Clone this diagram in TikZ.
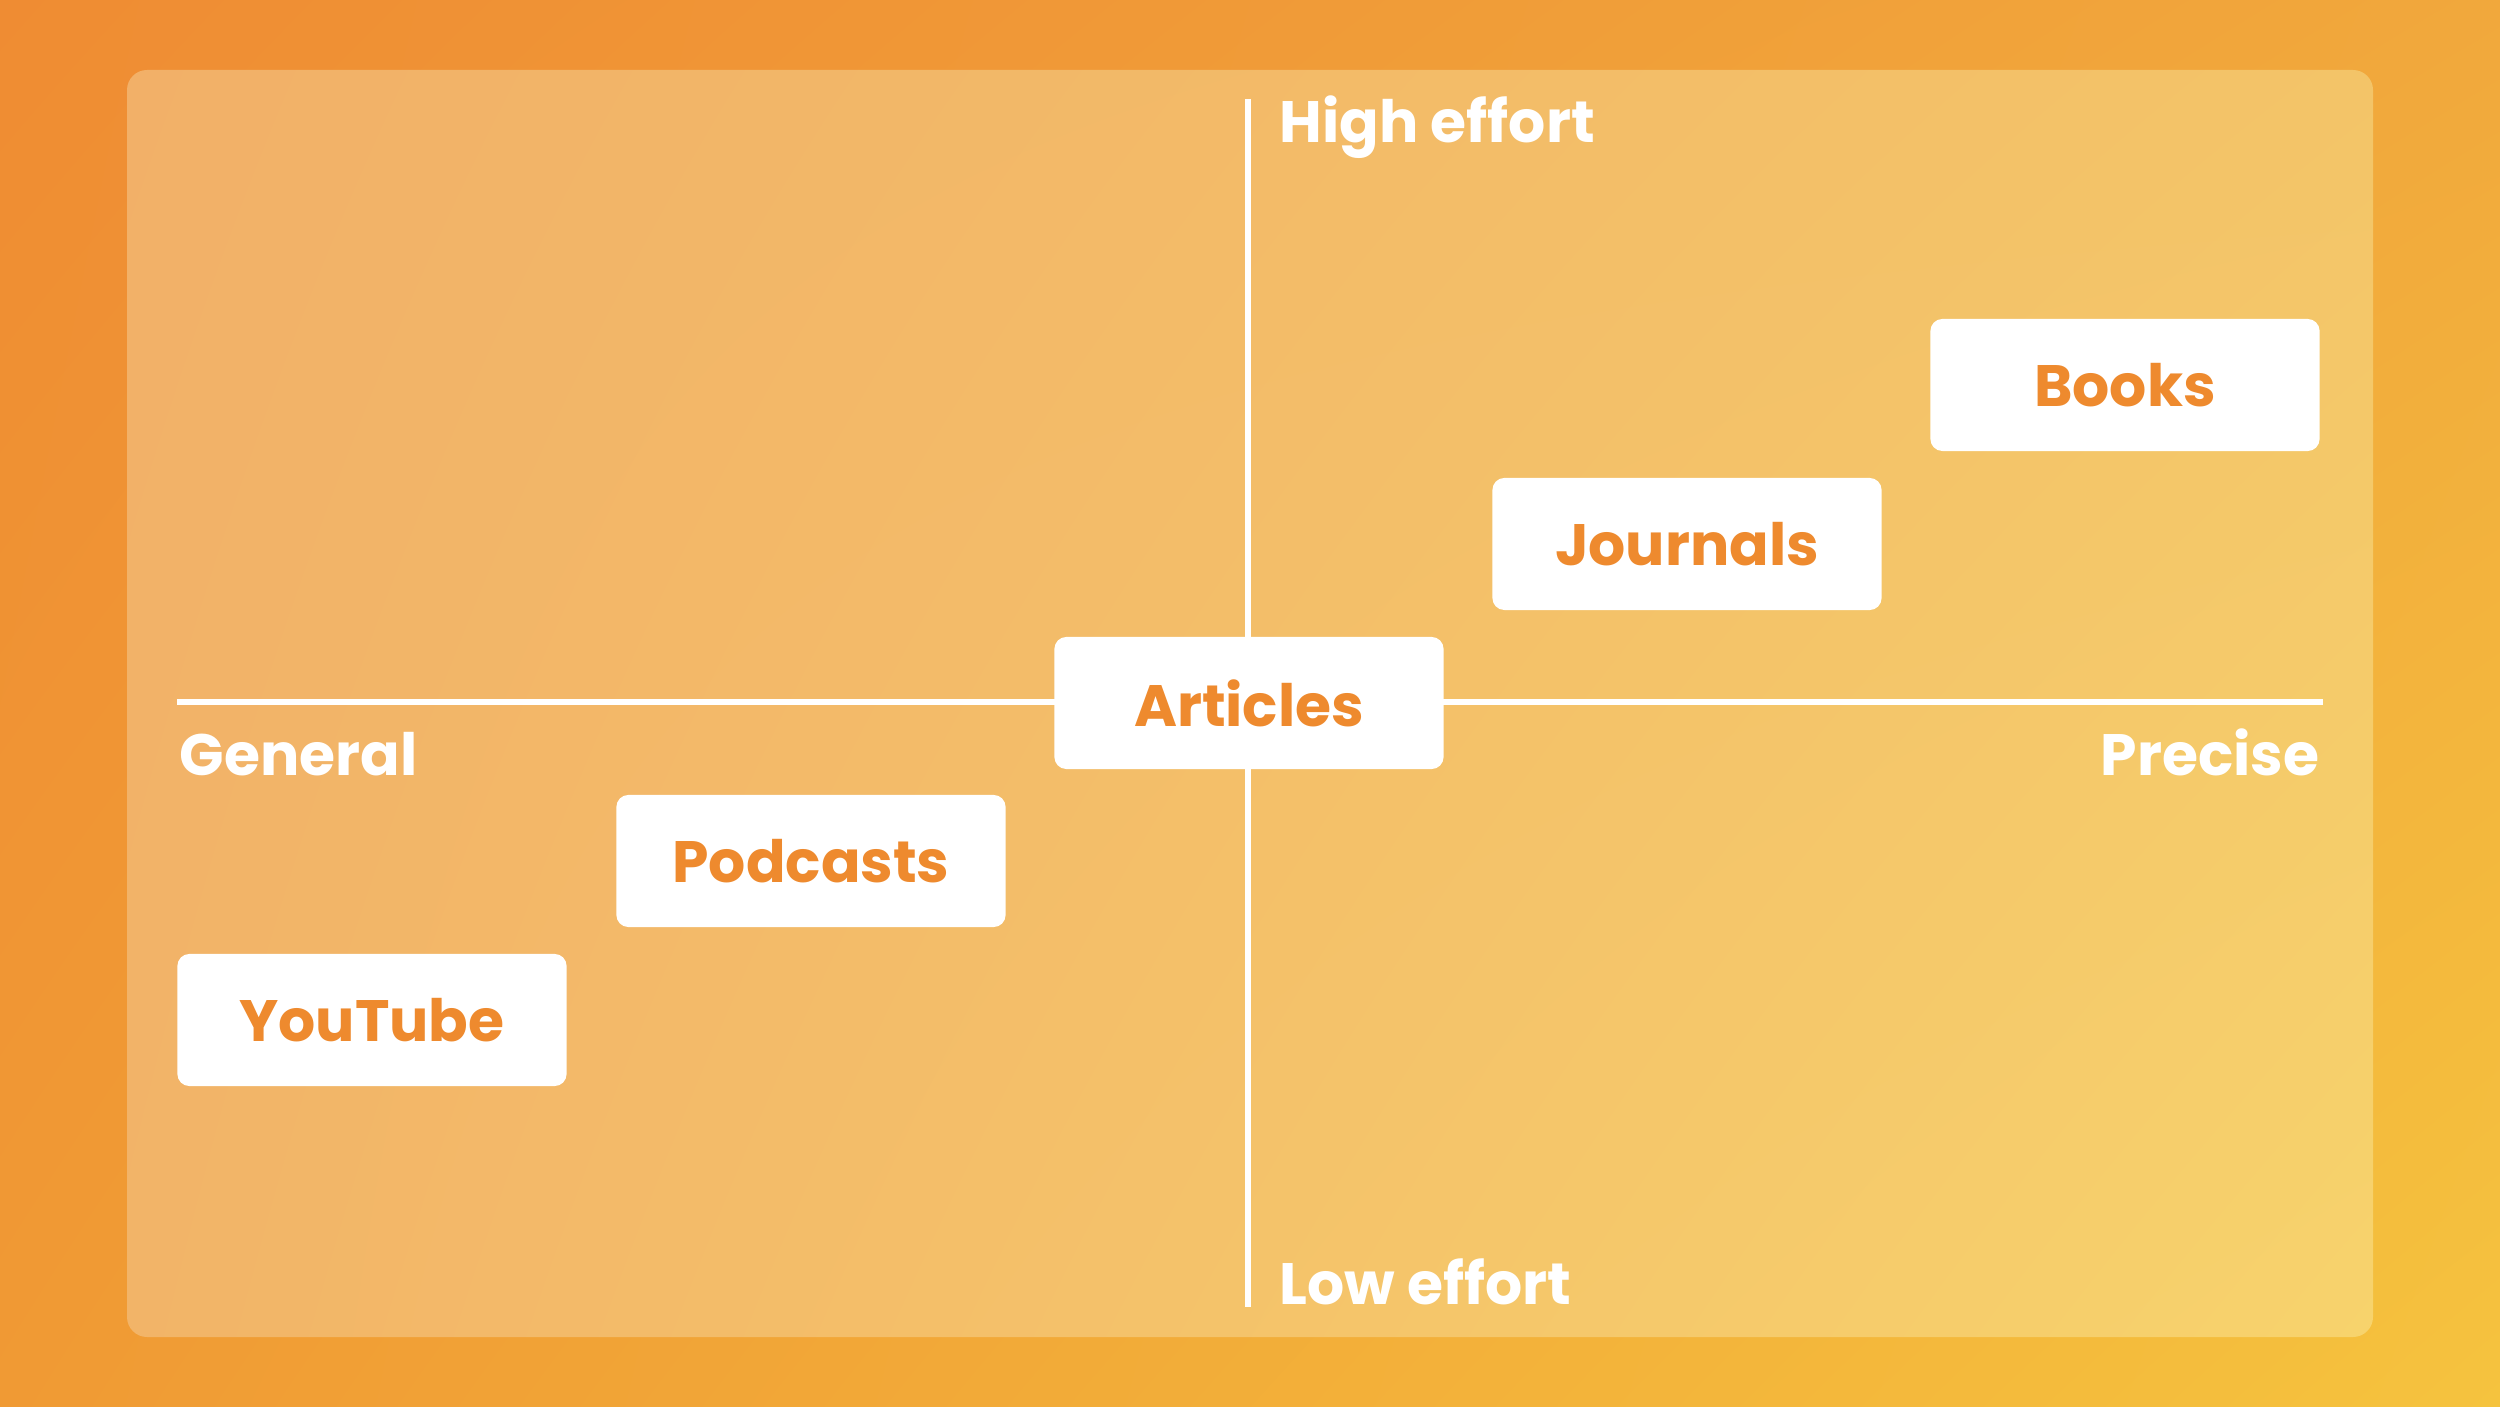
\documentclass[tikz,border=0pt]{standalone}
\usepackage{fontspec}
\setmainfont{Poppins}
\usepackage{tikz}
\usetikzlibrary{positioning, shadings}

\definecolor{ortl}{HTML}{EF8C33}
\definecolor{ortr}{HTML}{F1A83C}
\definecolor{orbl}{HTML}{F09A34}
\definecolor{orbr}{HTML}{F5C33E}
\definecolor{pntl}{HTML}{F2B068}
\definecolor{pntr}{HTML}{F3C468}
\definecolor{pnbl}{HTML}{F2B468}
\definecolor{pnbr}{HTML}{F7D36C}
\definecolor{txt}{HTML}{EE8A2E}

\tikzset{
  card/.style={fill=white, rounded corners=0.12cm, minimum width=3.89cm, minimum height=1.32cm,
    text=txt, font=\fontsize{16.6pt}{20pt}\selectfont\bfseries},
  axlabel/.style={text=white, inner sep=0pt, font=\fontsize{16.6pt}{20pt}\selectfont\bfseries},
  axis/.style={white, line width=1.5pt}
}

\begin{document}
\begin{tikzpicture}[x=0.01cm, y=-0.01cm]
\useasboundingbox (0, 0) rectangle (2500, 1407);
\shade[shading=bilinear interpolation, upper left=ortl, upper right=ortr, lower left=orbl, lower right=orbr] (0, 0) rectangle (2500, 1407);
\shade[rounded corners=0.2cm, shading=bilinear interpolation, upper left=pntl, upper right=pntr, lower left=pnbl, lower right=pnbr] (127, 70) rectangle (2373, 1337);

\coordinate (top) at (1248, 99);
\coordinate (bottom) at (1248, 1307);
\coordinate (left) at (177, 702);
\coordinate (right) at (2323, 702);
\draw[axis] (top) -- (bottom);
\draw[axis] (left) -- (right);

\node[axlabel, anchor=base west] (high) at (1279, 143) {High effort};
\node[axlabel, anchor=base west] (low) at (1279, 1304) {Low effort};
\node[axlabel, anchor=base west] (general) at (179, 776) {General};
\node[axlabel, anchor=base east] (precise) at (2320, 776) {Precise};

\node[card] (books) at (2125, 385) {Books};
\node[card] (journals) at (1687, 544) {Journals};
\node[card] (articles) at (1249, 703) {Articles};
\node[card] (podcasts) at (811, 861) {Podcasts};
\node[card] (youtube) at (372, 1020) {YouTube};
\end{tikzpicture}
\end{document}
